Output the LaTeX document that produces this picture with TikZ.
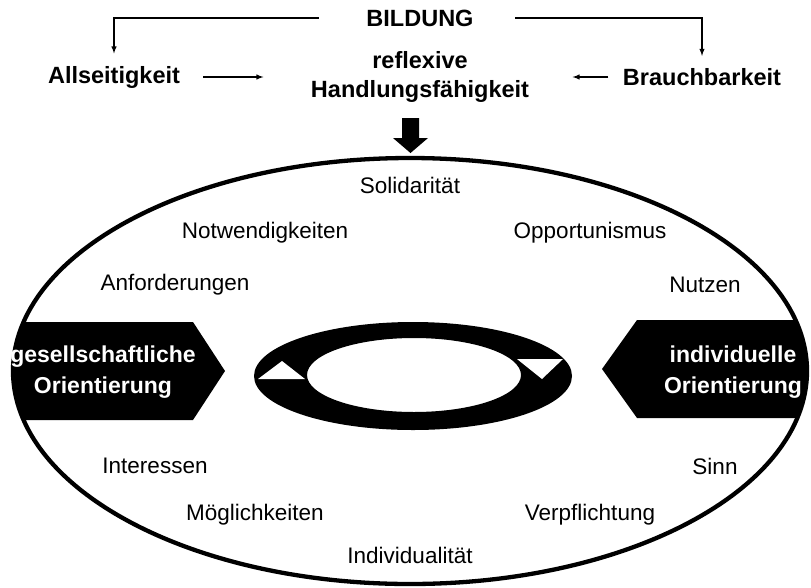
\documentclass[tikz,border=0pt]{standalone}
\usepackage{fontspec}
\setmainfont{Liberation Sans}
\usetikzlibrary{arrows, calc}
\tikzset{
    word/.style={font=\fontsize{22.5}{26}\selectfont},
    head/.style={font=\fontsize{23.5}{29}\selectfont\bfseries, align=center},
    inv/.style={head, text=white, font=\fontsize{23}{31}\selectfont\bfseries},
    link/.style={-latex, line width=1.4pt},
}
\newcommand{\drawArena}{
    \def\rx{397}
    \def\ry{213}
    \coordinate (M) at (410,371);

    % black tags at both sides
    \begin{scope}
        \clip (M) ellipse [x radius=\rx, y radius=\ry];
        \fill (0,322) -- (193,322) -- (225,371) -- (193,420) -- (0,420) -- cycle;
        \fill (811,320) -- (637,320) -- (602,369) -- (637,418) -- (811,418) -- cycle;
    \end{scope}
    \draw[line width=4.3pt] (M) ellipse [x radius=\rx, y radius=\ry];

    % the ring in the middle
    \fill[even odd rule] (413,376) ellipse [x radius=159, y radius=54]
        (414,375) ellipse [x radius=107, y radius=37];
    \fill[white] (258,379) -- (305,379) -- (282,361) -- cycle;
    \fill[white] (517,359) -- (563,359) -- (542,379) -- cycle;
}

\begin{document}
\begin{tikzpicture}[x=1pt,y=-1pt]
    \useasboundingbox (0,0) rectangle (811,587);

    \node[head] (bild) at (420,18) {BILDUNG};
    \node[head] (alls) at (114,77) {Allseitigkeit};
    \node[head] (brauch) at (702,77) {Brauchbarkeit};
    \node[head] (refl) at (420,77) {reflexive\\Handlungsfähigkeit};

    \draw[link, shorten <=44pt, shorten >=9pt] (bild.west) -| (alls.north);
    \draw[link, shorten <=38pt, shorten >=9pt] (bild.east) -| (brauch.north);
    \draw[link, shorten <=20pt, shorten >=44pt] (alls.east) -- (alls.east -| refl.west);
    \draw[link, shorten <=11pt, shorten >=40pt] (brauch.west) -- (brauch.west -| refl.east);

    % thick arrow down
    \fill (402,118) -- (419,118) -- (419,138) -- (428,138) -- (410.5,153)
        -- (393,138) -- (402,138) -- cycle;

    \drawArena

    \node[inv] (gesell) at (103,372) {gesellschaftliche\\Orientierung};
    \node[inv] (indiv) at (733,372) {individuelle\\Orientierung};

    \node[word] (soli) at (410,185) {Solidarität};
    \node[word] (notw) at (265,233) {Notwendigkeiten};
    \node[word] (oppo) at (590,233) {Opportunismus};
    \node[word] (anfo) at (175,285) {Anforderungen};
    \node[word] (nutz) at (705,285) {Nutzen};
    \node[word] (inte) at (155,466) {Interessen};
    \node[word] (sinn) at (715,466) {Sinn};
    \node[word] (moeg) at (255,515) {Möglichkeiten};
    \node[word] (verp) at (590,515) {Verpflichtung};
    \node[word] (indi) at (410,555) {Individualität};
\end{tikzpicture}
\end{document}
